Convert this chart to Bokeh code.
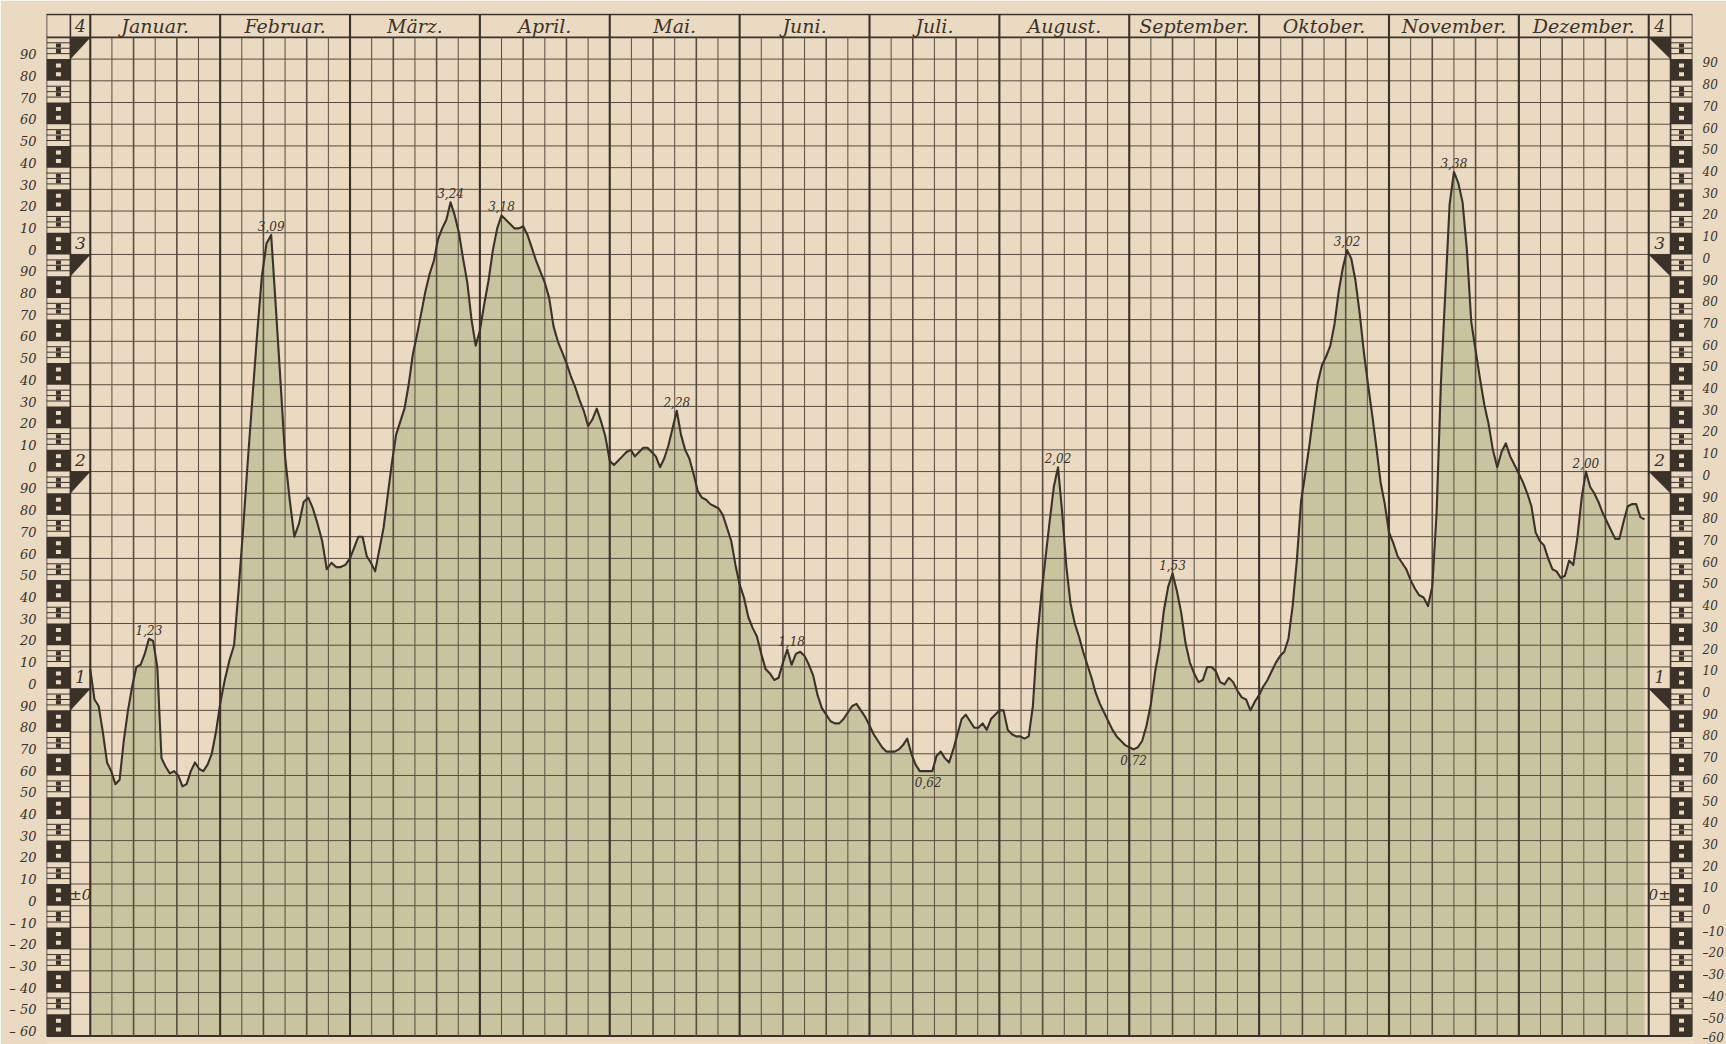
from bokeh.plotting import figure
from bokeh.models import ColumnDataSource, LinearAxis, FixedTicker, CustomJSTickFormatter, Range1d
from bokeh.core.properties import value
from bokeh.embed import file_html
from bokeh.resources import INLINE

# ---------------- data ----------------
MONTHS = ["Januar.", "Februar.", "März.", "April.", "Mai.", "Juni.", "Juli.",
          "August.", "September.", "Oktober.", "November.", "Dezember."]
DAYS_IN_MONTH = [31, 28, 31, 30, 31, 30, 31, 31, 30, 31, 30, 31]

# daily gauge readings in cm (one list per month)
jan = [109, 95, 92, 80, 66, 62, 56, 58, 76, 90, 101, 110, 111, 116, 123, 122, 110, 68, 64, 61,
       62, 60, 55, 56, 62, 66, 63, 62, 65, 70, 80]
feb = [93, 104, 113, 120, 146, 175, 206, 235, 264, 290, 305, 309, 276, 242, 207, 187, 170, 176,
       186, 188, 183, 176, 168, 155, 158, 156, 156, 157]
mar = [160, 165, 170, 170, 161, 158, 154, 164, 174, 189, 204, 217, 223, 229, 240, 254, 263, 273,
       283, 291, 297, 307, 312, 316, 324, 318, 310, 298, 287, 270, 258]
apr = [265, 277, 288, 302, 312, 318, 316, 314, 312, 312, 313, 309, 303, 297, 292, 287, 280, 267,
       260, 255, 250, 244, 239, 233, 228, 221, 224, 229, 223, 216]
may = [205, 203, 205, 207, 209, 210, 207, 209, 211, 211, 209, 207, 202, 206, 212, 220, 228, 217,
       210, 206, 199, 191, 188, 187, 185, 184, 183, 180, 174, 168, 157]
jun = [148, 142, 133, 128, 124, 116, 109, 107, 104, 105, 112, 118, 111, 116, 117, 115, 111, 106,
       97, 91, 88, 85, 84, 84, 86, 89, 92, 93, 90, 87]
jul = [83, 79, 76, 73, 71, 71, 71, 72, 74, 77, 70, 65, 62, 62, 62, 62, 69, 71, 68, 66, 72, 79,
       86, 88, 85, 82, 82, 84, 81, 86, 88]
aug = [90, 90, 81, 79, 78, 78, 77, 78, 92, 122, 143, 160, 177, 193, 202, 181, 156, 139, 130, 124,
       117, 111, 105, 98, 93, 89, 85, 81, 78, 76, 74]
sep = [73, 72, 73, 76, 83, 93, 108, 119, 136, 147, 153, 145, 135, 121, 112, 107, 103, 104, 110,
       110, 108, 103, 102, 105, 103, 99, 96, 95, 90, 94]
oct_ = [97, 101, 104, 108, 112, 115, 117, 123, 138, 159, 186, 199, 212, 227, 241, 249, 253, 258,
        268, 283, 294, 302, 298, 288, 273, 255, 240, 226, 211, 195, 185]
nov = [172, 167, 161, 158, 155, 150, 146, 143, 142, 138, 147, 181, 241, 282, 323, 338, 333, 324,
       302, 269, 256, 243, 231, 222, 210, 202, 209, 213, 207, 203]
dec = [199, 195, 190, 184, 172, 168, 166, 160, 155, 154, 151, 152, 159, 157, 170, 188, 200, 193,
       190, 186, 181, 177, 173, 169, 169, 177, 184, 185, 185, 179, 178]
MONTH_DATA = [jan, feb, mar, apr, may, jun, jul, aug, sep, oct_, nov, dec]

# annotated extremes (month index, day, printed value)
high_month = [0, 1, 2, 3, 4, 5, 7, 8, 9, 10, 11]
high_day = [15, 12, 25, 6, 17, 13, 15, 11, 22, 16, 17]
high_text = ["1,23", "3,09", "3,24", "3,18", "2,28", "1,18", "2,02", "1,53", "3,02", "3,38", "2,00"]
low_month = [6, 8]
low_day = [15, 2]
low_text = ["0,62", "0,72"]

# gauge scale: metre marks and levels (cm)
METRE_MARKS = [400, 300, 200, 100]
METRE_TEXT = ["4", "3", "2", "1"]
LEVEL_MIN, LEVEL_MAX = -60, 400

# ---------------- style ----------------
PAPER = "#eadac2"
FILL = "#c8c49f"
INK = "#3b3229"
GRID = "#5a4c3e"
DARK = "#3a3129"

RULER_L = (-0.337, -0.153)
BOX_L = (-0.153, 0.0)
BOX_R = (12.0, 12.168)
RULER_R = (12.168, 12.337)
TOP = 410.6


def xpos(m, d):
    return m + (d - 1) / DAYS_IN_MONTH[m]


xs, ys = [], []
for m, vals in enumerate(MONTH_DATA):
    for i, v in enumerate(vals):
        xs.append(xpos(m, i + 1))
        ys.append(v)

p = figure(width=1726, height=1044, x_range=Range1d(-0.337, 12.337), y_range=Range1d(-63, 411),
           output_backend="svg", toolbar_location=None, x_axis_location=None, y_axis_location=None,
           min_border_left=46, min_border_right=25, min_border_top=13, min_border_bottom=2)
p.grid.visible = False
p.outline_line_color = None
p.background_fill_color = PAPER
p.border_fill_color = PAPER

# area under the hydrograph
p.varea(x=xs, y1=[LEVEL_MIN] * len(xs), y2=ys, fill_color=FILL, fill_alpha=1.0)

# ---------------- grid ----------------
def seg(x0, y0, x1, y1, width, color=GRID):
    p.segment(x0=x0, y0=y0, x1=x1, y1=y1, line_color=color, line_width=width)

hy = list(range(LEVEL_MIN, LEVEL_MAX, 10))
seg([BOX_L[0]] * len(hy), hy, [BOX_R[1]] * len(hy), hy, 1.0)
seg([RULER_L[0], RULER_L[0]], [LEVEL_MAX, TOP], [RULER_R[1], RULER_R[1]], [LEVEL_MAX, TOP], 1.8, DARK)
seg([RULER_L[0]], [LEVEL_MIN], [RULER_R[1]], [LEVEL_MIN], 1.8, DARK)

thin_x, mid_x = [], []
for m in range(12):
    for k in range(1, 6):
        (mid_x if k % 2 == 0 else thin_x).append(m + k / 6)
seg(thin_x, [LEVEL_MIN] * len(thin_x), thin_x, [LEVEL_MAX] * len(thin_x), 1.0)
seg(mid_x, [LEVEL_MIN] * len(mid_x), mid_x, [LEVEL_MAX] * len(mid_x), 1.6)
month_x = list(range(13))
seg(month_x, [LEVEL_MIN] * 13, month_x, [TOP] * 13, 2.1, DARK)
edge_x = [RULER_L[0], RULER_L[1], RULER_R[0], RULER_R[1]]
seg(edge_x, [LEVEL_MIN] * 4, edge_x, [TOP] * 4, 1.6, DARK)

# ---------------- gauge rulers ----------------
for (x0, x1) in (RULER_L, RULER_R):
    xc = (x0 + x1) / 2
    blk = [v for v in range(LEVEL_MIN, LEVEL_MAX, 10) if (v // 10) % 2 == 0]
    wht = [v for v in range(LEVEL_MIN, LEVEL_MAX, 10) if (v // 10) % 2 != 0]
    p.quad(left=x0, right=x1, bottom=blk, top=[v + 10 for v in blk], fill_color=DARK, line_color=None)
    sq_y = [v + 3 for v in blk] + [v + 7 for v in blk]
    p.rect(x=[xc] * len(sq_y), y=sq_y, width=5, height=4, width_units="screen", height_units="screen",
           fill_color=PAPER, line_color=None)
    ly = [v + f for v in wht for f in (2.5, 5, 7.5)]
    seg([x0] * len(ly), ly, [x1] * len(ly), ly, 1.0, DARK)
    dq_y = [v + 3.75 for v in wht] + [v + 6.25 for v in wht]
    p.rect(x=[xc] * len(dq_y), y=dq_y, width=5, height=4, width_units="screen", height_units="screen",
           fill_color=DARK, line_color=None)

# metre triangles
tri_xs, tri_ys = [], []
for mk in METRE_MARKS:
    tri_xs.append([BOX_L[0], BOX_L[1], BOX_L[0]])
    tri_ys.append([mk, mk, mk - 10])
    tri_xs.append([BOX_R[0], BOX_R[1], BOX_R[1]])
    tri_ys.append([mk, mk, mk - 10])
p.patches(xs=tri_xs, ys=tri_ys, fill_color=DARK, line_color=DARK, line_width=0.5)

# metre numbers
bl = (BOX_L[0] + BOX_L[1]) / 2
br = (BOX_R[0] + BOX_R[1]) / 2
num_y = [mk + 5.3 for mk in METRE_MARKS]
p.text(x=[bl] * 4 + [br] * 4, y=num_y + num_y, text=METRE_TEXT + METRE_TEXT,
       text_align="center", text_baseline="middle", text_font=value("DejaVu Serif"),
       text_font_style="italic", text_font_size="17px", text_color=INK)
p.text(x=[bl, br], y=[5, 5], text=["±0", "0±"], text_align="center", text_baseline="middle",
       text_font=value("DejaVu Serif"), text_font_style="italic", text_font_size="15px", text_color=INK)

# month headers
p.text(x=[m + 0.5 for m in range(12)], y=[405.3] * 12, text=MONTHS, text_align="center",
       text_baseline="middle", text_font=value("DejaVu Serif"), text_font_style="italic",
       text_font_size="19px", text_color=INK)

# hydrograph line
p.line(xs, ys, line_color=INK, line_width=2.1, line_join="round")

# extremes
hx = [xpos(m, d) for m, d in zip(high_month, high_day)]
hyv = [float(t.replace(",", ".")) * 100 for t in high_text]
p.text(x=hx, y=hyv, text=high_text, text_align="center", text_baseline="bottom", y_offset=-4,
       text_font=value("DejaVu Serif"), text_font_style="italic", text_font_size="12px", text_color=INK)
lx = [xpos(m, d) for m, d in zip(low_month, low_day)]
lyv = [float(t.replace(",", ".")) * 100 for t in low_text]
p.text(x=lx, y=lyv, text=low_text, text_align="center", text_baseline="top", y_offset=6,
       text_font=value("DejaVu Serif"), text_font_style="italic", text_font_size="12px", text_color=INK)

# scale labels (left above the line, right below it)
left_ax = LinearAxis(ticker=FixedTicker(ticks=[v + 2 for v in range(LEVEL_MIN, LEVEL_MAX, 10)]),
                     formatter=CustomJSTickFormatter(code="""
const v = Math.round(tick - 2);
if (v < 0) return "\u2013 " + (-v);
return String(v % 100);
"""))
right_ax = LinearAxis(ticker=FixedTicker(ticks=[v - 2 for v in range(LEVEL_MIN, LEVEL_MAX, 10)]),
                      formatter=CustomJSTickFormatter(code="""
const v = Math.round(tick + 2);
if (v < 0) return "\u2013" + (-v);
return String(v % 100);
"""))
for ax, size, so in ((left_ax, "13px", 4), (right_ax, "12px", 4)):
    ax.axis_line_color = None
    ax.major_tick_line_color = None
    ax.minor_tick_line_color = None
    ax.major_label_standoff = so
    ax.major_label_text_font = "DejaVu Serif"
    ax.major_label_text_font_style = "italic"
    ax.major_label_text_font_size = size
    ax.major_label_text_color = INK
p.add_layout(left_ax, "left")
p.add_layout(right_ax, "right")

open("out.html", "w").write(file_html(p, INLINE))
